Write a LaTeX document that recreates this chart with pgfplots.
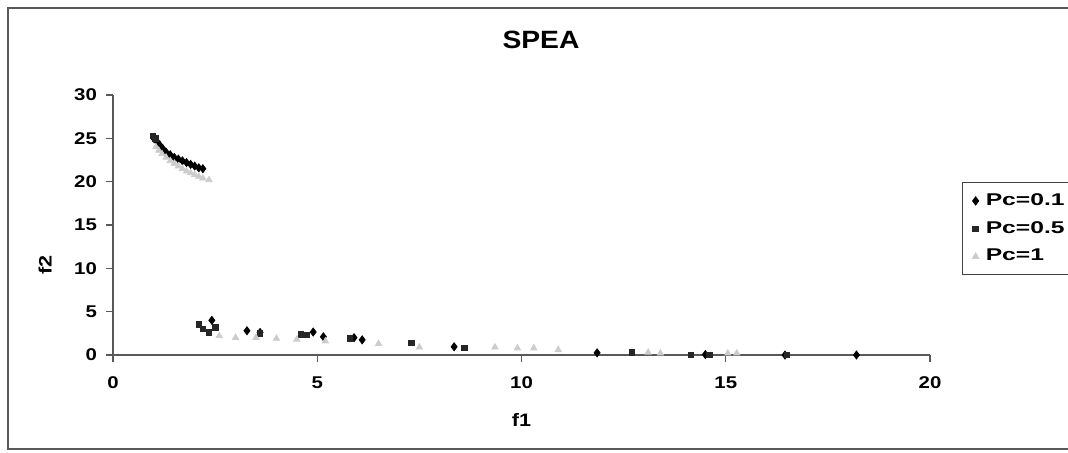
\documentclass[border=0pt]{standalone}
\usepackage{fontspec}
\setmainfont{Liberation Sans}[FakeStretch=1.2]
\newfontfamily\legfont{Liberation Sans}[FakeStretch=1.45]
\newfontfamily\titfont{Liberation Sans}[FakeStretch=1.13]
\usepackage{pgfplots}
\pgfplotsset{compat=1.18}

\definecolor{axisgray}{gray}{0.35}
\definecolor{paleg}{gray}{0.8}

\begin{document}
\begin{tikzpicture}
\begin{axis}[
  name=ax,
  scale only axis,
  width=408.5pt, height=130pt,
  xmin=0, xmax=20, ymin=0, ymax=30,
  axis x line=bottom, axis y line=left,
  axis line style={-, axisgray, line width=0.6pt},
  tick style={axisgray, line width=0.6pt},
  tick align=outside,
  major tick length=3.5pt,
  xtick={0,5,...,20}, ytick={0,5,...,30},
  ticklabel style={font=\bfseries\fontsize{8.5}{10}\selectfont},
  xticklabel style={yshift=-4pt},
  yticklabel style={xshift=-1pt},
  /pgf/number format/assume math mode=true,
  clip=false,
  legend style={at={(1.0392,0.6654)}, anchor=north west,
    draw=black!75, line width=0.5pt, inner xsep=5pt, inner ysep=3.5pt,
    font=\legfont\bfseries\fontsize{8.5}{10}\selectfont, row sep=2.5pt,
    column sep=1.5pt, cells={anchor=west}},
  legend cell align=left,
]
% Pc=0.1
\addplot[only marks, mark=diamond*, mark size=2pt, black] coordinates {
 (1.00,25.0)(1.08,24.6)(1.15,24.2)(1.22,23.8)(1.30,23.4)(1.40,23.1)(1.50,22.8)
 (1.60,22.6)(1.70,22.4)(1.80,22.2)(1.90,22.0)(2.00,21.8)(2.10,21.6)(2.20,21.5)
 (2.42,4.0)(3.28,2.8)(3.60,2.6)(4.90,2.65)(5.15,2.1)(5.90,2.0)(6.10,1.75)
 (8.35,0.95)(11.85,0.25)(14.50,0.05)(16.45,0.0)(18.20,0.0)
};
\addlegendentry{Pc=0.1}
% Pc=0.5
\addplot[only marks, mark=square*, mark size=1.4pt, black!85] coordinates {
 (0.98,25.3)(1.04,25.0)
 (2.10,3.5)(2.20,3.0)(2.35,2.6)(2.50,3.2)(3.60,2.5)(4.60,2.35)(4.75,2.3)
 (5.80,1.9)(7.30,1.4)(8.60,0.8)(12.70,0.3)(14.15,0.0)(14.60,0.0)(16.50,0.0)
};
\addlegendentry{Pc=0.5}
% Pc=1
\addplot[only marks, mark=triangle*, mark size=1.8pt, paleg] coordinates {
 (1.05,24.0)(1.12,23.6)(1.20,23.2)(1.30,22.8)(1.40,22.4)(1.50,22.1)(1.60,21.8)
 (1.70,21.5)(1.80,21.2)(1.90,21.0)(2.00,20.8)(2.10,20.6)(2.20,20.4)(2.35,20.2)
 (2.60,2.2)(3.00,2.0)(3.50,2.0)(4.00,1.9)(4.50,1.8)(5.20,1.6)(6.50,1.3)
 (7.50,0.9)(9.35,0.9)(9.90,0.8)(10.30,0.8)(10.90,0.6)(13.10,0.3)(13.40,0.2)
 (15.05,0.2)(15.27,0.2)
};
\addlegendentry{Pc=1}
\end{axis}
\pgfresetboundingbox
\path[use as bounding box] ([shift={(-56.5pt,-48.5pt)}]ax.south west) rectangle ([shift={(477.5pt,177.5pt)}]ax.south west);
\draw[black!65, line width=0.8pt] ([shift={(490pt,-47pt)}]ax.south west) -- ([shift={(-52.5pt,-47pt)}]ax.south west)
  -- ([shift={(-52.5pt,173.5pt)}]ax.south west) -- ([shift={(490pt,173.5pt)}]ax.south west);
\node[font=\titfont\bfseries\fontsize{12.5}{15}\selectfont] at ([shift={(214pt,157.5pt)}]ax.south west) {SPEA};
\node[font=\bfseries\fontsize{9}{11}\selectfont] at ([shift={(204.25pt,-32.5pt)}]ax.south west) {f1};
\node[font=\bfseries\fontsize{9}{11}\selectfont, rotate=90] at ([shift={(-34pt,45pt)}]ax.south west) {f2};
\end{tikzpicture}
\end{document}
